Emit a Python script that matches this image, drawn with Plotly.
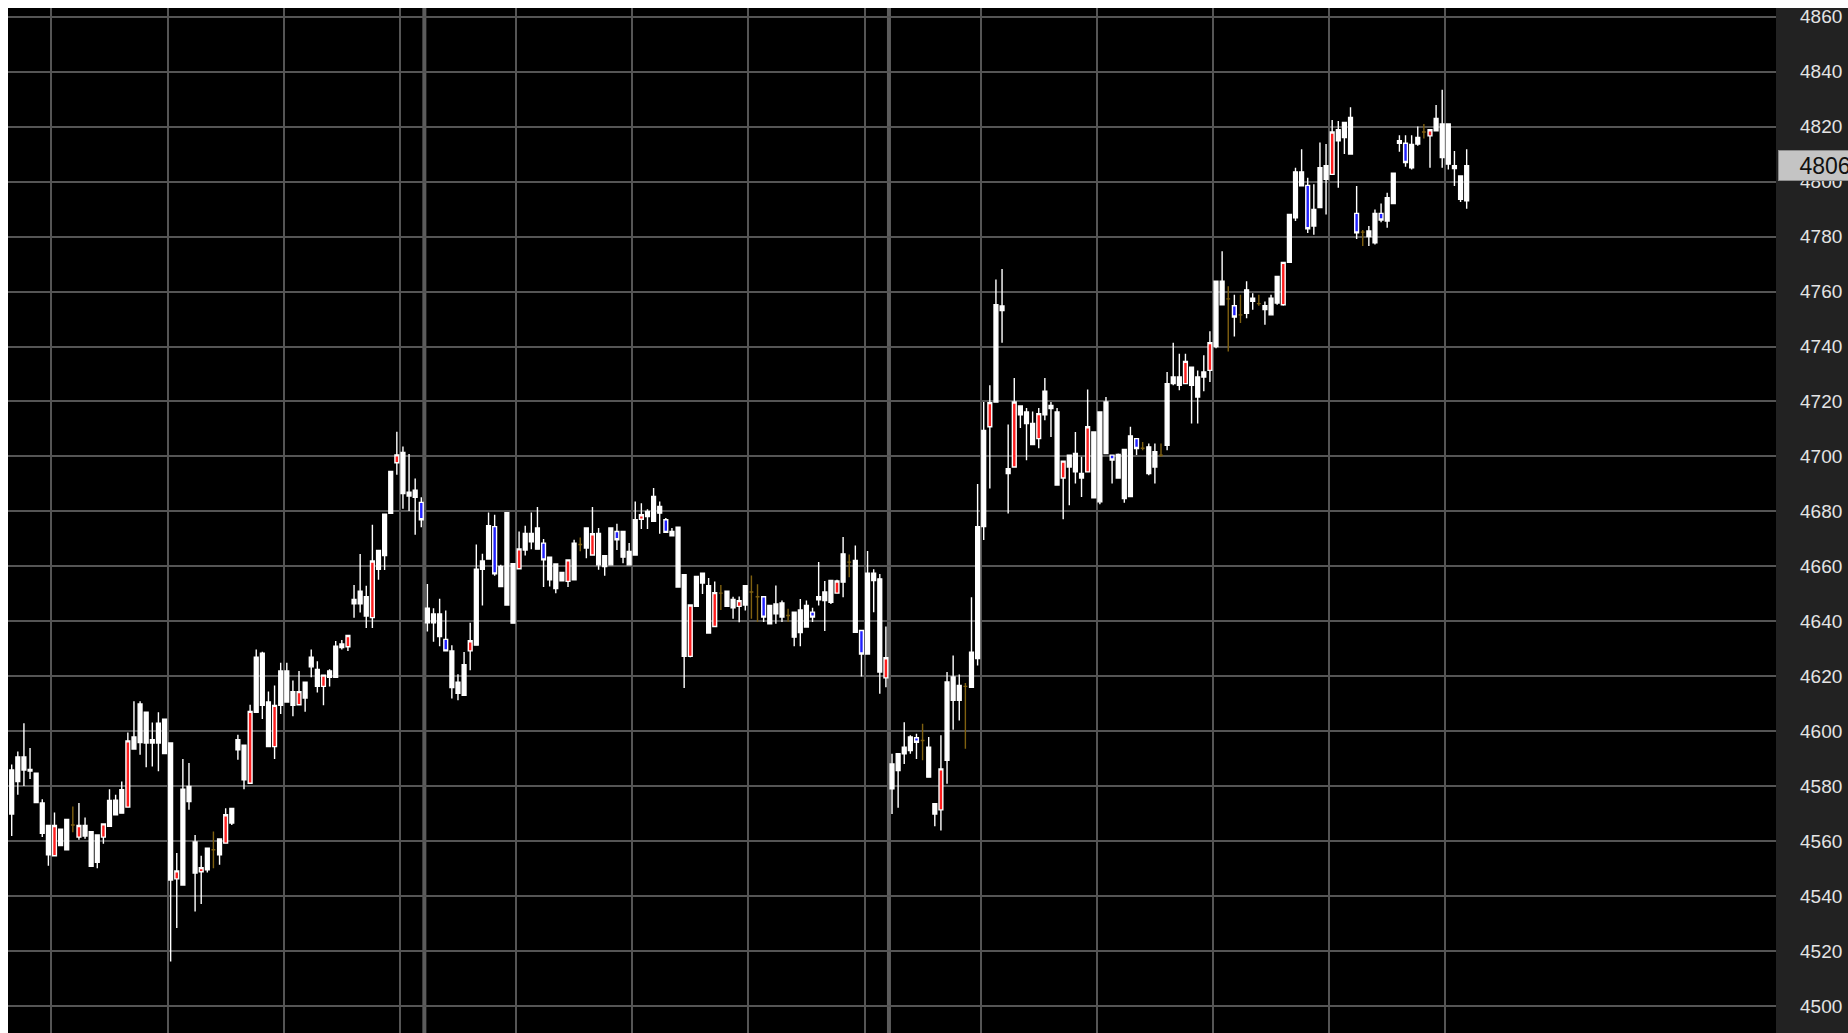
import plotly.graph_objects as go

# ---------------- data (candles in time order) ----------------
high = [4588, 4592.7, 4603, 4594, 4585, 4575.4, 4565.8, 4570.5, 4564.5, 4568,
        4572.7, 4574, 4568.7, 4563.6, 4562.4, 4566.4, 4579, 4577, 4581.8, 4599.6,
        4611, 4611, 4607, 4603.3, 4607, 4604.5, 4595.8, 4555.8, 4590, 4588.5,
        4562.4, 4554.8, 4557.6, 4563.6, 4560.9, 4572.1, 4572, 4598.8, 4595, 4609.7,
        4629.8, 4629, 4614.5, 4616.7, 4625, 4625, 4618.5, 4622, 4617.9, 4629.8,
        4625.5, 4620.5, 4622.6, 4632.9, 4633.3, 4634.9, 4653.3, 4664.5, 4653, 4675.2,
        4665.8, 4679, 4694.6, 4709, 4703.6, 4700.9, 4692, 4685.2, 4653.6, 4644.8,
        4648.3, 4644, 4631.4, 4620.8, 4628.9, 4639.5, 4668, 4664.6, 4679.6, 4678.8,
        4660.6, 4679.6, 4661.2, 4672.7, 4674.8, 4679.6, 4681.6, 4670, 4663.4, 4660.9,
        4657.8, 4662.4, 4669.7, 4670.5, 4674, 4681.6, 4674, 4663.9, 4674, 4675.5,
        4672.7, 4668.5, 4683.6, 4683, 4680.8, 4688.5, 4683.6, 4677.6, 4674, 4674.3,
        4657, 4646, 4656.4, 4657.6, 4655.8, 4654.5, 4653.3, 4651, 4649, 4649.1,
        4653.1, 4656.7, 4653.5, 4649, 4645.8, 4653.1, 4647.6, 4644.6, 4643.4, 4648.2,
        4647.6, 4645, 4661.6, 4654.7, 4655.2, 4655.2, 4670.7, 4664.4, 4667.6, 4636.7,
        4665.6, 4659, 4657.3, 4638.2, 4591.9, 4591.9, 4603.4, 4598.6, 4599.2, 4602.8,
        4598, 4573.7, 4598.6, 4621.6, 4627.6, 4620.7, 4617.6, 4648.8, 4690, 4719.8,
        4725.9, 4764.4, 4768.2, 4711.6, 4728.5, 4718.4, 4717.6, 4716.4, 4717.6, 4728.5,
        4719.8, 4717.6, 4698.3, 4700.5, 4708.9, 4699.9, 4724.4, 4708.9, 4716.2, 4721.6,
        4700.5, 4701.1, 4702.6, 4710.8, 4706.5, 4705.3, 4704.7, 4704.7, 4704.7, 4730.7,
        4741.4, 4737.4, 4737.4, 4732.5, 4731.3, 4736.8, 4745.5, 4763.7, 4774.6, 4761.9,
        4758.8, 4758.8, 4763.7, 4759.4, 4758.8, 4756.4, 4758.8, 4765.5, 4770.6, 4788,
        4805, 4811.7, 4801.4, 4799, 4814.2, 4813.6, 4822.4, 4822, 4821.5, 4827,
        4798.4, 4782.4, 4783.8, 4789.8, 4792, 4795.9, 4803, 4816.8, 4816.8, 4816.8,
        4820, 4820.9, 4819, 4827.8, 4833.4, 4820.9, 4811.1, 4802, 4811.7]

low = [4562, 4577, 4580.2, 4582.7, 4574, 4561.6, 4551.2, 4554.8, 4558.5, 4557,
       4563.4, 4560.6, 4561, 4551, 4550.3, 4559.2, 4565.5, 4569.7, 4570.3, 4572.5,
       4593.6, 4591.5, 4587, 4587.3, 4585.5, 4591.9, 4516.4, 4528.5, 4544.2, 4571.5,
       4534.5, 4537.3, 4548.7, 4550.3, 4551.5, 4559.4, 4566, 4589.7, 4579, 4581.2,
       4607, 4604.5, 4594.5, 4590, 4606.4, 4610.7, 4605.5, 4609.7, 4607.2, 4619.7,
       4614.2, 4609.5, 4616.4, 4619.7, 4629.8, 4629.3, 4641.4, 4643.3, 4637.6, 4637.6,
       4655.2, 4658.7, 4679.3, 4693.4, 4681, 4680.2, 4671.5, 4674.3, 4636.4, 4632.6,
       4631, 4629.3, 4612, 4611.4, 4613.2, 4622.3, 4631.4, 4645.8, 4662.7, 4656.6,
       4652.5, 4645.7, 4639.4, 4659.2, 4664, 4666.3, 4666.3, 4652.5, 4652.7, 4650.3,
       4654.5, 4652.5, 4655.2, 4665.5, 4663, 4664.2, 4658.8, 4656.6, 4660.6, 4666,
       4661.2, 4660.6, 4664.2, 4673.6, 4673.6, 4676.4, 4671.9, 4672.4, 4671.2, 4652.5,
       4615.8, 4627, 4645.5, 4650, 4635.8, 4638.2, 4644.2, 4645.5, 4641, 4639.7,
       4644, 4641, 4639.8, 4639.8, 4639.2, 4639.2, 4639.8, 4639.8, 4631, 4631,
       4638, 4639.8, 4645.8, 4636.5, 4646.4, 4650.1, 4648.8, 4656.1, 4636.1, 4620,
       4628.2, 4643.4, 4613.7, 4616.1, 4570, 4572.3, 4588.2, 4591.9, 4590, 4589.5,
       4583.4, 4565.5, 4564, 4581, 4600.6, 4604, 4593.7, 4616.1, 4624, 4669.6,
       4688.4, 4719.8, 4741.4, 4679.3, 4696.2, 4710.4, 4698.6, 4704.3, 4703, 4713.2,
       4707.1, 4689.6, 4677.2, 4682.3, 4690.2, 4685.3, 4694.4, 4685, 4682.6, 4701.1,
       4690.2, 4692.2, 4683.2, 4685.4, 4700.5, 4702.3, 4693.2, 4690.2, 4699.9, 4702.3,
       4725.9, 4724.1, 4726.5, 4712, 4712, 4723.7, 4727.1, 4739.4, 4755.2, 4738.2,
       4743.6, 4748.5, 4750.3, 4753.4, 4754.8, 4747.9, 4751.5, 4755.2, 4754.8, 4770.6,
       4785.6, 4798.4, 4781.3, 4780.6, 4790.5, 4788, 4802.6, 4797.7, 4810, 4810,
       4779.1, 4776.5, 4776.5, 4777.1, 4785.2, 4783.2, 4791.7, 4810.8, 4805.4, 4804.4,
       4813, 4815.6, 4805, 4818.4, 4805, 4804.4, 4798.4, 4792.5, 4790.1]

open_ = [4570, 4581.8, 4586, 4586.2, 4574.2, 4563, 4555.2, 4554.8, 4558.5, 4557,
         4566, 4561.6, 4562, 4551, 4552.4, 4561.6, 4565.5, 4569.7, 4570.3, 4572.5,
         4593.6, 4596, 4595.8, 4595.8, 4595.8, 4592, 4546, 4546.4, 4544.2, 4574.5,
         4548.5, 4549, 4549.7, 4557, 4555.2, 4559.4, 4566.7, 4593.3, 4582.4, 4581.2,
         4607, 4609.5, 4594.5, 4594.5, 4609.5, 4610.7, 4609.5, 4609.7, 4612.2, 4623.5,
         4616.4, 4616.4, 4619.7, 4619.7, 4630.5, 4630.8, 4646.4, 4646.4, 4642, 4641.4,
         4659, 4664, 4679.3, 4697.7, 4686.5, 4685.6, 4685.2, 4683.3, 4639.5, 4639.5,
         4634.5, 4633.5, 4616, 4613.9, 4613.2, 4629.3, 4631.4, 4659, 4662.7, 4674.5,
         4652.7, 4646, 4639.4, 4659.2, 4666, 4669, 4666.3, 4668.5, 4655.2, 4652,
         4654.8, 4654.6, 4655.2, 4668, 4666.7, 4664.2, 4660.6, 4660, 4660.6, 4672.7,
         4663.4, 4660.6, 4664.2, 4677.2, 4678.2, 4676.4, 4679.4, 4677, 4671.2, 4652.5,
         4627.3, 4627.3, 4645.5, 4654, 4635.8, 4638.2, 4650.3, 4645.5, 4645, 4645.5,
         4646, 4650.7, 4649, 4649, 4639.2, 4642.8, 4641.6, 4642.2, 4634.3, 4636,
         4638, 4643.4, 4647.9, 4647.6, 4647, 4650.3, 4654.3, 4661.6, 4636.1, 4636.7,
         4628.2, 4654.9, 4621.6, 4619.5, 4579.2, 4585.8, 4591.9, 4593.1, 4597.7, 4596.7,
         4583.4, 4570, 4571.5, 4589.5, 4611.3, 4611.3, 4616.4, 4616.1, 4626.5, 4674.5,
         4710.8, 4719.8, 4753.1, 4693.8, 4696.2, 4715.2, 4712, 4704.3, 4706.5, 4715.2,
         4717.4, 4689.6, 4692.2, 4696.2, 4694.4, 4692.2, 4694.4, 4685, 4683.5, 4701.1,
         4700.5, 4692.2, 4684.7, 4685.4, 4706.5, 4703, 4693.8, 4696.2, 4700.5, 4704.1,
         4726.5, 4725.9, 4726.5, 4725.9, 4721.6, 4728.9, 4731.3, 4740, 4755.2, 4757.3,
         4754.8, 4751.5, 4752.1, 4756.4, 4755.6, 4753.4, 4751.5, 4755.8, 4755.2, 4770.6,
         4786.8, 4798.4, 4798.6, 4783.8, 4790.5, 4800.8, 4802.6, 4814.8, 4816, 4810,
         4788.4, 4781.6, 4780, 4777.7, 4788.4, 4785.6, 4792, 4813.9, 4813.9, 4805,
         4813.6, 4818, 4816.6, 4818.4, 4808.7, 4806.3, 4804.7, 4793.5, 4793]

close = [4586, 4590.7, 4590.7, 4585.6, 4584.8, 4574, 4565.8, 4565.8, 4564.5, 4568,
         4566, 4565.8, 4565.8, 4563.6, 4562.4, 4566.4, 4574.9, 4575, 4578.8, 4596.6,
         4598, 4610, 4607, 4597, 4603, 4604.5, 4595.8, 4549.3, 4579, 4580,
         4559.8, 4550.5, 4557.6, 4557, 4560.9, 4569.7, 4572, 4597, 4595, 4607.3,
         4627, 4628.5, 4610.7, 4609.5, 4622, 4622, 4614.5, 4614.5, 4617.9, 4627,
         4622.6, 4620.5, 4622, 4631, 4631.8, 4634.9, 4648, 4651, 4649, 4662,
         4665.8, 4679, 4694.6, 4700.6, 4701.5, 4687, 4687.7, 4677, 4644.8, 4642.7,
         4642.7, 4629.3, 4629.3, 4617.9, 4624.3, 4633, 4659, 4662, 4674.8, 4657.3,
         4660, 4679.6, 4661, 4666.4, 4672, 4672, 4674, 4662.4, 4663.4, 4660.9,
         4657.8, 4662.4, 4668.5, 4668, 4674, 4671.9, 4672, 4663.9, 4674, 4669.7,
         4672.7, 4665.5, 4677, 4678.8, 4680, 4685.5, 4681.8, 4672.4, 4672.7, 4674.3,
         4657, 4646, 4656.4, 4657.6, 4653, 4650.5, 4650.3, 4651, 4648, 4647.6,
         4653, 4650.7, 4649, 4641.6, 4645.8, 4646.4, 4646.7, 4642.2, 4643.4, 4644.2,
         4645.8, 4641.6, 4649, 4650.7, 4654.9, 4654.7, 4664.6, 4661.6, 4662.2, 4628.2,
         4657.6, 4657.6, 4655.5, 4626.8, 4588.2, 4591.9, 4594.3, 4598, 4596.1, 4596.7,
         4594.3, 4573.7, 4586.4, 4618, 4619.8, 4616.7, 4616.4, 4628.8, 4674.5, 4709.5,
         4719.6, 4755.2, 4754.7, 4695.6, 4719.8, 4718.4, 4716.2, 4712, 4715.6, 4723.7,
         4718.6, 4716.2, 4698.3, 4700.5, 4701.1, 4693.8, 4710.8, 4708.9, 4716.2, 4719.8,
         4698.7, 4700.7, 4702.6, 4707.5, 4702.9, 4703, 4703.5, 4701.7, 4700.5, 4726.5,
         4728.9, 4728.9, 4734.6, 4732.5, 4728.9, 4730.7, 4741.4, 4763.7, 4763.7, 4757.3,
         4750.7, 4751.5, 4760.6, 4757.6, 4755.6, 4754.8, 4757.6, 4765.5, 4770.6, 4788,
         4803.5, 4803.5, 4782.8, 4789.8, 4805, 4805.7, 4818, 4818.8, 4821.5, 4823.3,
         4781.3, 4781.6, 4782, 4788.4, 4786, 4794.1, 4803, 4814.8, 4806.9, 4813.5,
         4816, 4818, 4818.8, 4822.9, 4820.9, 4820.9, 4805.7, 4802, 4805.7]

# candle colouring as drawn in the source chart: w=white, r=red, b=blue, o=olive
kind = ("wwwbwwwrww" "orwwwrwwwr" "wwwwwwwrww" "wrwowrwwwr" "wwwrwwwrww"
        "wrwwwrwwwr" "wwwrwwwbww" "wbwwwrwwwb" "wwwrwwwbww" "wrwowrwwwb"
        "wwwrwwwbww" "wrwwwrowwr" "woobwwwoww" "wbwwwrwowb" "wwwrwwwwbo"
        "wwrwwwowww" "rwwwrwwwrw" "wwrwwwrwww" "bwwwbowwow" "wwrwwwrwwo"
        "bowwowwwrw" "wwbwwwrwww" "bowwbwwwbw" "worwwwwww")

y_ticks = [4500 + 20 * k for k in range(19)]

# ---------------- figure ----------------
styles = {
    "w": ("#ffffff", "#ffffff"),
    "r": ("#ff1e1e", "#ffffff"),
    "b": ("#2020ff", "#ffffff"),
    "o": ("#7f6010", "#7f6010"),
}

fig = go.Figure()
for k, (fill, edge) in styles.items():
    idx = [i for i, c in enumerate(kind) if c == k]
    sty = dict(fillcolor=fill, line=dict(color=edge, width=1.4))
    fig.add_trace(go.Candlestick(
        x=idx,
        open=[open_[i] for i in idx],
        high=[high[i] for i in idx],
        low=[low[i] for i in idx],
        close=[close[i] for i in idx],
        increasing=sty, decreasing=sty,
        whiskerwidth=0, hoverinfo="skip", showlegend=False,
    ))

grid_x = [6.5 + 19 * k for k in range(13)]
day_breaks = [67.5, 143.5]

shapes = [
    dict(type="rect", xref="paper", yref="paper", x0=1, x1=1.05, y0=0, y1=1,
         fillcolor="#222222", line=dict(width=0), layer="below"),
]
for xb in day_breaks:
    shapes.append(dict(type="line", xref="x", yref="paper", x0=xb, x1=xb, y0=0, y1=1,
                       line=dict(color="#5c5c5c", width=4), layer="below"))

last = close[-1]
fig.update_layout(
    width=1848, height=1033,
    margin=dict(l=8, r=72, t=8, b=0),
    paper_bgcolor="#ffffff", plot_bgcolor="#000000",
    showlegend=False,
    boxgap=0.2, boxgroupgap=0.22,
    shapes=shapes,
    xaxis=dict(range=[-0.605, 288.6], tickmode="array", tickvals=grid_x,
               showticklabels=False, ticks="", showgrid=True, gridcolor="#555555",
               gridwidth=2, zeroline=False, showline=False,
               rangeslider=dict(visible=False), fixedrange=True),
    yaxis=dict(range=[4490.36, 4863.09], side="right", tickmode="array",
               tickvals=y_ticks, ticktext=[str(v) for v in y_ticks],
               showgrid=True, gridcolor="#555555", gridwidth=2, zeroline=False,
               showline=False, ticks="", ticklabelstandoff=23,
               tickfont=dict(family="Liberation Sans", size=19, color="#e4e4e4"),
               fixedrange=True),
    annotations=[dict(
        xref="paper", yref="y", x=1 + 2 / 1768, y=last, xanchor="left", yanchor="middle",
        text=str(round(last)), showarrow=False, width=90, height=27, align="center",
        bgcolor="#c4c4c4", bordercolor="#8c8c8c", borderwidth=1, borderpad=1,
        font=dict(family="Liberation Sans", size=23, color="#111111"),
    )],
)

fig.write_html("out.html", config={"displayModeBar": False},
               post_script="document.body.style.margin='0';document.body.style.overflow='hidden';")
